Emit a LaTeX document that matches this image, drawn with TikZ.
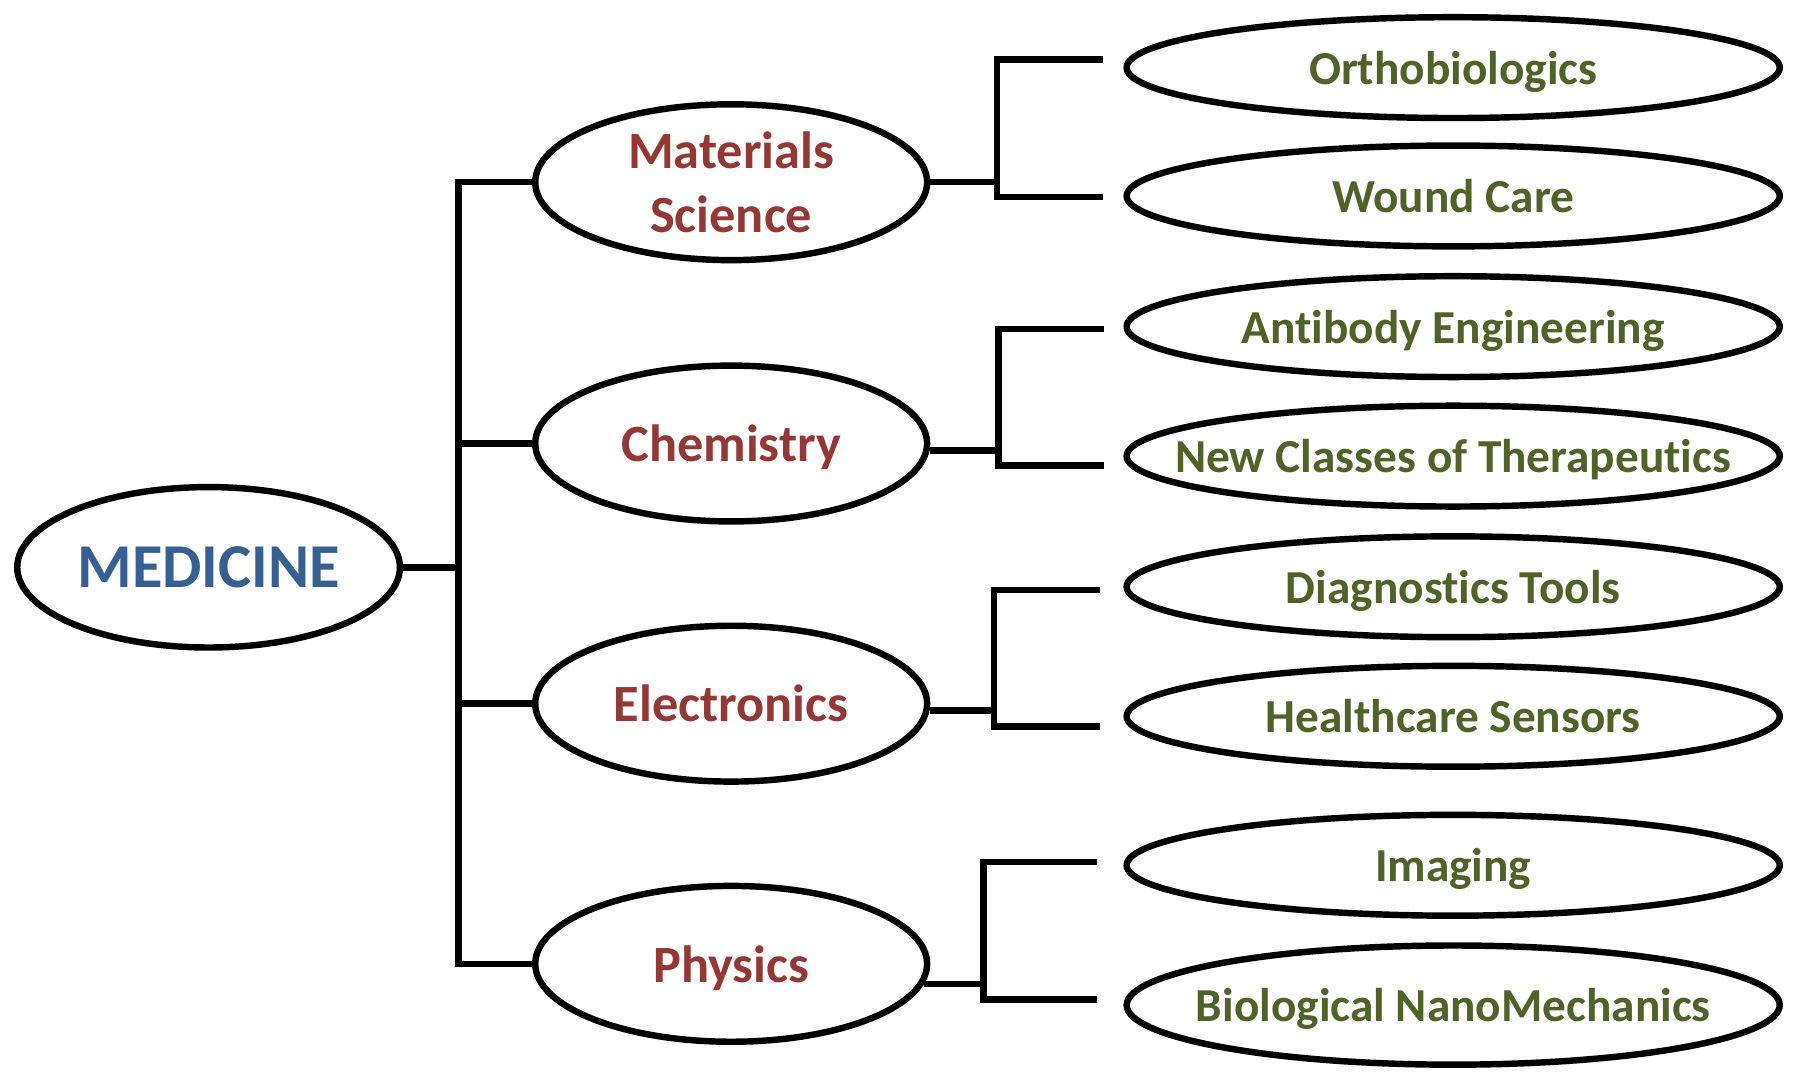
\documentclass[tikz,border=0pt]{standalone}
\usepackage{fontspec}
\setmainfont{Carlito}[Ligatures=NoCommon]
\usetikzlibrary{shapes.geometric}
\definecolor{medblue}{HTML}{376092}
\definecolor{fieldred}{HTML}{953735}
\definecolor{topicgreen}{HTML}{4F6228}
\tikzset{
	root/.style={ellipse, draw, minimum width=6.68cm, minimum height=2.8cm, inner xsep=-20pt, inner ysep=-4pt, text=medblue, font=\bfseries\fontsize{31}{37}\selectfont},
	field/.style={ellipse, draw, minimum width=6.84cm, minimum height=2.72cm, inner xsep=-20pt, inner ysep=-8pt, align=center, text=fieldred, font=\bfseries\fontsize{26}{32}\selectfont},
	topic/.style={ellipse, draw, minimum width=11.4cm, minimum height=1.76cm, inner xsep=-40pt, inner ysep=-6pt, text depth=0pt, text=topicgreen, font=\bfseries\fontsize{23.5}{28}\selectfont}
}
\begin{document}
\begin{tikzpicture}[x=0.02cm, y=-0.02cm, line width=3.2pt]
	\useasboundingbox (0,0) rectangle (1568,935);
	% root and fields
	\node[root] (med) at (182,495) {MEDICINE};
	\node[field] (mat) at (638,159) {Materials\\Science};
	\node[field, text depth=0pt] (chem) at (638,387) {Chemistry};
	\node[field] (elec) at (638,614) {Electronics};
	\node[field, text depth=0pt] (phys) at (638,841) {Physics};
	% topics
	\node[topic] (ortho) at (1268,59) {Orthobiologics};
	\node[topic] (wound) at (1268,171) {Wound Care};
	\node[topic] (anti) at (1268,285) {Antibody Engineering};
	\node[topic] (thera) at (1268,398) {New Classes of Therapeutics};
	\node[topic] (diag) at (1268,512) {Diagnostics Tools};
	\node[topic] (sens) at (1268,625) {Healthcare Sensors};
	\node[topic] (imag) at (1268,755) {Imaging};
	\node[topic, minimum height=2.08cm] (nano) at (1268,877) {Biological NanoMechanics};
	% bracket ends
	\coordinate (ortho-in) at (962,52);
	\coordinate (wound-in) at (962,172);
	\coordinate (anti-in) at (963,287);
	\coordinate (thera-in) at (963,406);
	\coordinate (diag-in) at (960,515);
	\coordinate (sens-in) at (960,634);
	\coordinate (imag-in) at (957,752);
	\coordinate (nano-in) at (957,872);
	% left tree
	\draw (mat.west) -- ++(-64,0) coordinate (st) |- (phys.west);
	\draw (chem.west) -- (chem.west -| st);
	\draw (elec.west) -- (elec.west -| st);
	\draw (med.east) -- (med.east -| st);
	% right brackets
	\draw (mat.east) -- ++(58,0) coordinate (mk);
	\draw (chem.-2) -- ++(60,0) coordinate (ck);
	\draw (elec.-2.7) -- ++(56,0) coordinate (ek);
	\draw (phys.-6.6) -- ++(52,0) coordinate (pk);
	\foreach \k/\a/\b in {mk/ortho/wound, ck/anti/thera, ek/diag/sens, pk/imag/nano}
		\draw (\a-in) -| (\k) |- (\b-in);
\end{tikzpicture}
\end{document}
